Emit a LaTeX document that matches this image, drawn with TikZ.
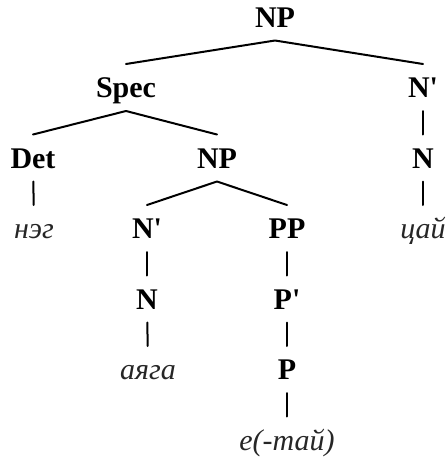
\documentclass[tikz,border=0pt]{standalone}
\usepackage{fontspec}
\setmainfont{Liberation Serif}
\usepackage{tikz}

\tikzset{
  cat/.style={font=\fontsize{30}{36}\selectfont\bfseries, text height=20pt,
    text depth=0pt, inner sep=0pt, outer xsep=0pt, outer ysep=13.5pt, anchor=base},
  word/.style={cat, font=\fontsize{30}{36}\selectfont\itshape, text=black!85},
  branch/.style={line width=2pt, line cap=round, line join=round}
}
\newcommand{\barprime}{\textquotesingle}

\begin{document}
\begin{tikzpicture}[x=1pt, y=1pt]
  \useasboundingbox (0,0) rectangle (448,-459);

  % categories, row by row
  \node[cat] (np)    at (275,-27)    {NP};
  \node[cat] (spec)  at (126,-97.5)  {Spec};
  \node[cat] (nbarr) at (423,-97.5)  {N\barprime};
  \node[cat] (det)   at (33,-168)    {Det};
  \node[cat] (npm)   at (217,-168)   {NP};
  \node[cat] (nr)    at (423,-168)   {N};
  \node[word] (neg)  at (34,-238.5)  {нэг};
  \node[cat] (nbarm) at (147,-238.5) {N\barprime};
  \node[cat] (pp)    at (287,-238.5) {PP};
  \node[word] (tsai) at (423,-238.5) {цай};
  \node[cat] (nm)    at (147,-309)   {N};
  \node[cat] (pbar)  at (287,-309)   {P\barprime};
  \node[word] (ayaga) at (148,-379.5) {аяга};
  \node[cat] (p)     at (287,-379.5) {P};
  \node[word] (e)    at (287,-450)   {е(-тай)};

  % branches
  \draw[branch] (spec.north) -- (np.south) -- (nbarr.north);
  \draw[branch] (det.north) -- (spec.south) -- (npm.north);
  \draw[branch] (nbarm.north) -- (npm.south) -- (pp.north);
  \draw[branch] (nbarr) -- (nr);
  \draw[branch] (nr) -- (tsai);
  \draw[branch] (det) -- (neg);
  \draw[branch] (nbarm) -- (nm);
  \draw[branch] (nm) -- (ayaga);
  \draw[branch] (pp) -- (pbar);
  \draw[branch] (pbar) -- (p);
  \draw[branch] (p) -- (e);
\end{tikzpicture}
\end{document}
